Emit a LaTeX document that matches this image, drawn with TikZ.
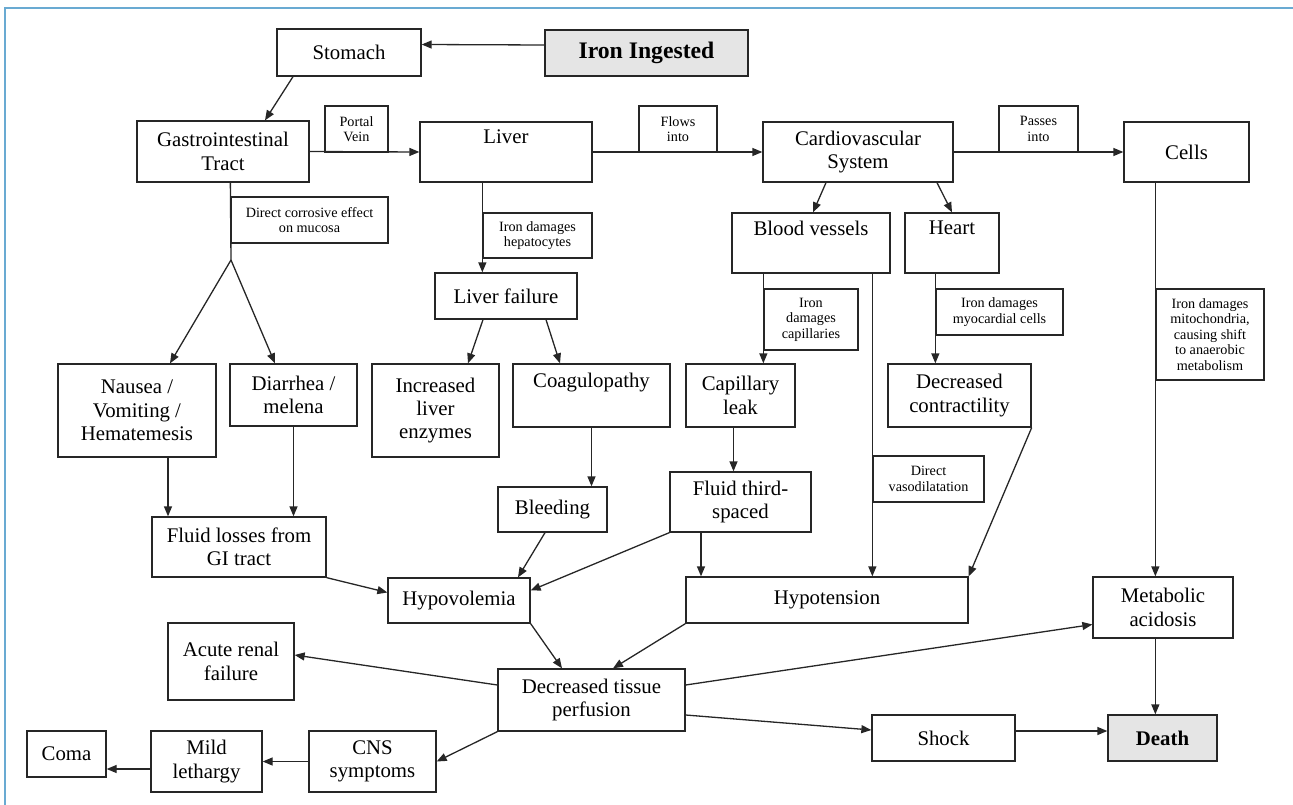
\documentclass[tikz,border=0pt]{standalone}
\usepackage{fontspec}
\setmainfont{Liberation Serif}
\usetikzlibrary{arrows.meta}

\definecolor{frameBlue}{RGB}{105,170,210}
\newcommand{\mainSize}{\fontsize{20.8}{23.3}\selectfont}
\newcommand{\noteSize}{\fontsize{14.2}{15.4}\selectfont}

\tikzstyle{block}=[rectangle, draw=black!85, line width=1.3pt, inner sep=0pt, align=center, font=\mainSize]
\tikzstyle{note}=[block, font=\noteSize]
\tikzstyle{shaded}=[fill=black!10]
\tikzset{wh/.style 2 args={minimum width=#1pt, minimum height=#2pt}}

\begin{document}
\begin{tikzpicture}[x=1pt, y=-1pt, >={Triangle[length=10pt,width=8pt]}, line width=1.3pt, draw=black!85]

	\useasboundingbox (0,0) rectangle (1293,805);
	\draw[frameBlue, line width=2pt] (5,805) -- (5,8) -- (1293,8);

	% Top row
	\node(iron) at (646.5,53) [block, shaded, wh={203}{46}, font=\fontsize{23.7}{26}\selectfont\bfseries] {Iron Ingested};
	\node(stomach) at (349,52.5) [block, wh={144}{47}] {Stomach};
	\node(gi) at (223,151.5) [block, wh={172}{61}] {Gastrointestinal\\Tract};
	\node(liver) at (506,152) [block, wh={172}{60}] {Liver\\\strut};
	\node(cardio) at (858,152) [block, wh={190}{60}] {Cardiovascular\\System};
	\node(cells) at (1186.5,152) [block, wh={125}{60}] {Cells};

	\node(portal) at (356.5,129) [note, wh={63}{46}] {Portal\\Vein};
	\node(flows) at (678,129) [note, wh={78}{46}] {Flows\\into};
	\node(passes) at (1038.5,129) [note, wh={79}{46}] {Passes\\into};

	\draw[->] ([yshift=8pt]iron.west) -- ([yshift=8pt]stomach.east);
	\draw[->] ([xshift=-56pt]stomach.south) -- ([xshift=42pt]gi.north);
	\draw[->] (gi.east) -- (liver.west);
	\draw[->] (liver.east) -- (cardio.west);
	\draw[->] (cardio.east) -- (cells.west);

	% Second level
	\node(blood) at (811,243) [block, wh={158}{60}] {Blood vessels\\\strut};
	\node(heart) at (952,243) [block, wh={94}{60}] {Heart\\\strut};
	\node(lfail) at (506,296) [block, wh={142}{46}] {Liver failure};

	\node(corr) at (309.5,220) [note, wh={157}{46}] {Direct corrosive effect\\on mucosa};
	\node(hepat) at (537.5,235.5) [note, wh={109}{45}] {Iron damages\\hepatocytes};
	\node(caps) at (811,319.5) [note, wh={94}{61}] {Iron\\damages\\capillaries};
	\node(myo) at (999.5,312) [note, wh={127}{46}] {Iron damages\\myocardial cells};
	\node(mito) at (1210,334.5) [note, wh={108}{91}] {Iron damages\\mitochondria,\\causing shift\\to anaerobic\\metabolism};
	\node(vaso) at (928.5,479) [note, wh={111}{46}] {Direct\\vasodilatation};

	\draw[->] ([xshift=-32pt]cardio.south) -- ([xshift=2pt]blood.north);
	\draw[->] ([xshift=79pt]cardio.south) -- (heart.north);
	\draw[->] (hepat.west |- liver.south) -- (hepat.west |- lfail.north);

	% Third level
	\node(nausea) at (137,410.5) [block, wh={158}{93}] {Nausea /\\Vomiting /\\Hematemesis};
	\node(diarr) at (293.5,395) [block, wh={127}{62}] {Diarrhea /\\melena};
	\node(incliver) at (435.5,410.5) [block, wh={127}{93}] {Increased\\liver\\enzymes};
	\node(coag) at (591.5,395.5) [block, wh={157}{63}] {Coagulopathy\\\strut};
	\node(capleak) at (740.5,395.5) [block, wh={109}{63}] {Capillary\\leak};
	\node(deccon) at (959.5,395.5) [block, wh={143}{63}] {Decreased\\contractility};

	\coordinate (split) at (231,260);
	\draw (corr.west |- gi.south) -- (split);
	\draw[->] (split) -- ([xshift=33pt]nausea.north);
	\draw[->] (split) -- ([xshift=-18.5pt]diarr.north);
	\draw[->] ([xshift=-23pt]lfail.south) -- ([xshift=32.5pt]incliver.north);
	\draw[->] ([xshift=40pt]lfail.south) -- ([xshift=-31.5pt]coag.north);
	\draw[->] (caps.west |- blood.south) -- (caps.west |- capleak.north);
	\draw[->] (myo.west |- heart.south) -- (myo.west |- deccon.north);

	% Fourth level
	\node(bleed) at (552.5,509.5) [block, wh={109}{45}] {Bleeding};
	\node(fluid3) at (740.5,502) [block, wh={141}{60}] {Fluid third-\\spaced};
	\node(fluidgi) at (239,547) [block, wh={174}{60}] {Fluid losses from\\GI tract};
	\node(hypovol) at (459,600.5) [block, wh={142}{45}] {Hypovolemia};
	\node(hypot) at (827,600) [block, wh={282}{46}] {Hypotension};
	\node(metac) at (1163,607.5) [block, wh={140}{61}] {Metabolic\\acidosis};

	\draw[->] ([xshift=31pt]nausea.south) -- ([xshift=31pt]nausea.south |- fluidgi.north);
	\draw[->] (diarr.south) -- (diarr.south |- fluidgi.north);
	\draw[->] (coag.south) -- (coag.south |- bleed.north);
	\draw[->] ([xshift=-7pt]capleak.south) -- ([xshift=-7pt]fluid3.north);
	\draw[->] (fluidgi.south east) -- ([yshift=8pt]hypovol.west);
	\draw[->] ([xshift=-7.5pt]bleed.south) -- ([xshift=59pt]hypovol.north);
	\draw[->] (fluid3.south west) -- ([yshift=10pt]hypovol.east);
	\draw[->] ([xshift=-39.5pt]fluid3.south) -- ([xshift=-39.5pt]fluid3.south |- hypot.north);
	\draw[->] (vaso.west |- blood.south) -- (vaso.west |- hypot.north);
	\draw[->] (deccon.south east) -- (hypot.north east);
	\draw[->] (mito.west |- cells.south) -- (mito.west |- metac.north);

	% Bottom rows
	\node(acute) at (231,661.5) [block, wh={126}{77}] {Acute renal\\failure};
	\node(dtp) at (591.5,700) [block, wh={187}{62}] {Decreased tissue\\perfusion};
	\node(coma) at (66.5,754) [block, wh={79}{46}] {Coma};
	\node(mild) at (206.5,761.5) [block, wh={111}{61}] {Mild\\lethargy};
	\node(cns) at (372.5,761.5) [block, wh={127}{61}] {CNS\\symptoms};
	\node(shock) at (943.5,738) [block, wh={143}{46}] {Shock};
	\node(death) at (1162.5,738) [block, shaded, wh={109}{46}, font=\mainSize\bfseries] {Death};

	\draw[->] (hypovol.south east) -- ([xshift=-29.5pt]dtp.north);
	\draw[->] (hypot.south west) -- ([xshift=21.5pt]dtp.north);
	\draw[->] ([yshift=15pt]dtp.west) -- ([yshift=6.5pt]acute.east);
	\draw[->] (dtp.south west) -- (cns.east);
	\draw[->] ([yshift=15pt]dtp.east) -- ([yshift=-17pt]metac.west);
	\draw[->] ([yshift=-15pt]dtp.east) -- ([yshift=8pt]shock.west);
	\draw[->] ([yshift=7pt]shock.east) -- ([yshift=7pt]shock.east -| death.west);
	\draw[->] (mito.west |- metac.south) -- (mito.west |- death.north);
	\draw[->] (cns.west) -- (mild.east);
	\draw[->] ([yshift=-7.5pt]mild.west) -- ([yshift=-7.5pt]mild.west -| coma.east);

\end{tikzpicture}
\end{document}
